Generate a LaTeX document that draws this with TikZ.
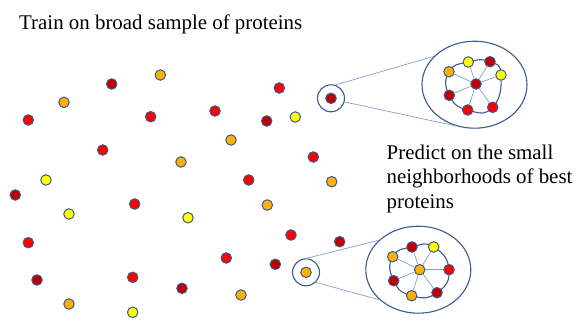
\documentclass[tikz,border=0pt]{standalone}
\usepackage{fontspec}
\setmainfont{Liberation Serif}
\usepackage{tikz}
\usepackage{xcolor}
\usetikzlibrary{
    positioning,
    calc,
    shapes.geometric,
    backgrounds
}
\definecolor{ProteinDark}{HTML}{C00000}
\definecolor{ProteinRed}{HTML}{FF0000}
\definecolor{ProteinOrange}{HTML}{FFB000}
\definecolor{ProteinYellow}{HTML}{FFFF00}
\definecolor{RimBlue}{HTML}{3A5A92}
\definecolor{EdgeBlue}{HTML}{7F9FD6}

\tikzset{
    protein/.style={circle, draw=RimBlue, line width=1pt, inner sep=0pt, minimum size=10.5pt},
    lens/.style={circle, draw=RimBlue, line width=1.1pt, inner sep=0pt, minimum size=27pt},
    hood/.style={ellipse, draw=RimBlue, line width=1.1pt, inner sep=0pt,
        minimum width=105pt, minimum height=87pt},
    ring/.style={draw=RimBlue, line width=1.1pt},
    link/.style={draw=EdgeBlue, line width=0.7pt},
    caption/.style={inner sep=0pt, font=\fontsize{20.9}{24.5}\selectfont}
}

\begin{document}
\begin{tikzpicture}[x=1pt, y=-1pt]
    \useasboundingbox (0,0) rectangle (582,335);

    % texts
    \node[caption, anchor=base west] (trainLabel) at (19,29.5)
        {Train on broad sample of proteins};
    \node[caption, anchor=base west, align=left] (predictLabel) at (386.5,208)
        {Predict on the small\\neighborhoods of best\\proteins};

    % broad sample
    \foreach \px/\py/\col [count=\i] in {
        111.7/84/ProteinDark, 160.3/75/ProteinOrange, 64/102.3/ProteinOrange,
        28.3/120/ProteinRed, 150.7/116.7/ProteinRed, 215/111/ProteinRed,
        279.3/88/ProteinRed, 266.7/121/ProteinDark, 295.3/117/ProteinYellow,
        231/140/ProteinOrange, 102.7/150/ProteinRed, 181/162/ProteinOrange,
        313.3/157/ProteinRed, 46/180/ProteinYellow, 15.3/195/ProteinDark,
        248.7/180/ProteinRed, 331.7/181.7/ProteinOrange, 134.7/204/ProteinRed,
        69/214/ProteinYellow, 188/217.7/ProteinYellow, 267.3/205/ProteinOrange,
        28.3/242.7/ProteinRed, 291/235/ProteinRed, 339.7/241.7/ProteinDark,
        226.3/258/ProteinRed, 275.3/264.3/ProteinDark, 37/280/ProteinDark,
        132.7/277.3/ProteinRed, 182/288.3/ProteinDark, 69/304/ProteinOrange,
        132.7/312.3/ProteinYellow, 241/295/ProteinOrange}
        \node[protein, fill=\col] (p\i) at (\px,\py) {};

    % upper neighborhood
    \node[lens] (lensA) at (331,98.3) {};
    \node[protein, fill=ProteinDark] (pickA) at (lensA.center) {};
    \node[hood] (hoodA) at (474.5,84.7) {};
    \node[protein, fill=ProteinDark] (hubA) at (476,84) {};
    \foreach \px/\py/\col [count=\k] in {
        449/71.7/ProteinOrange, 468.3/62/ProteinYellow, 490/61.7/ProteinDark,
        501/75/ProteinYellow, 492.7/107.3/ProteinRed, 467.7/110/ProteinRed,
        449.3/95.3/ProteinDark}
        \node[protein, fill=\col] (a\k) at (\px,\py) {};

    % lower neighborhood
    \node[lens] (lensB) at (306,272.3) {};
    \node[protein, fill=ProteinOrange] (pickB) at (lensB.center) {};
    \node[hood] (hoodB) at (418.3,269.7) {};
    \node[protein, fill=ProteinOrange] (hubB) at (419.7,269.7) {};
    \foreach \px/\py/\col [count=\k] in {
        392.7/256.7/ProteinOrange, 412/247/ProteinDark, 433.7/247/ProteinYellow,
        449/269.7/ProteinRed, 437/292.7/ProteinDark, 411.7/295.7/ProteinOrange,
        393.7/280.7/ProteinDark}
        \node[protein, fill=\col] (b\k) at (\px,\py) {};

    % connectors
    \draw[link] (lensA.72) -- (hoodA.145);
    \draw[link] (lensA.-15) -- (hoodA.246);
    \draw[link] (lensB.87) -- (hoodB.143);
    \draw[link] (lensB.-46) -- (hoodB.218);

    \begin{scope}[on background layer]
        \draw[ring] plot[smooth cycle, tension=0.9] coordinates {(a1) (a2) (a3) (a4) (a5) (a6) (a7)};
        \draw[ring] plot[smooth cycle, tension=0.9] coordinates {(b1) (b2) (b3) (b4) (b5) (b6) (b7)};
        \foreach \k in {1,...,7} {
            \draw[link] (hubA) -- (a\k);
            \draw[link] (hubB) -- (b\k);
        }
    \end{scope}
\end{tikzpicture}
\end{document}
